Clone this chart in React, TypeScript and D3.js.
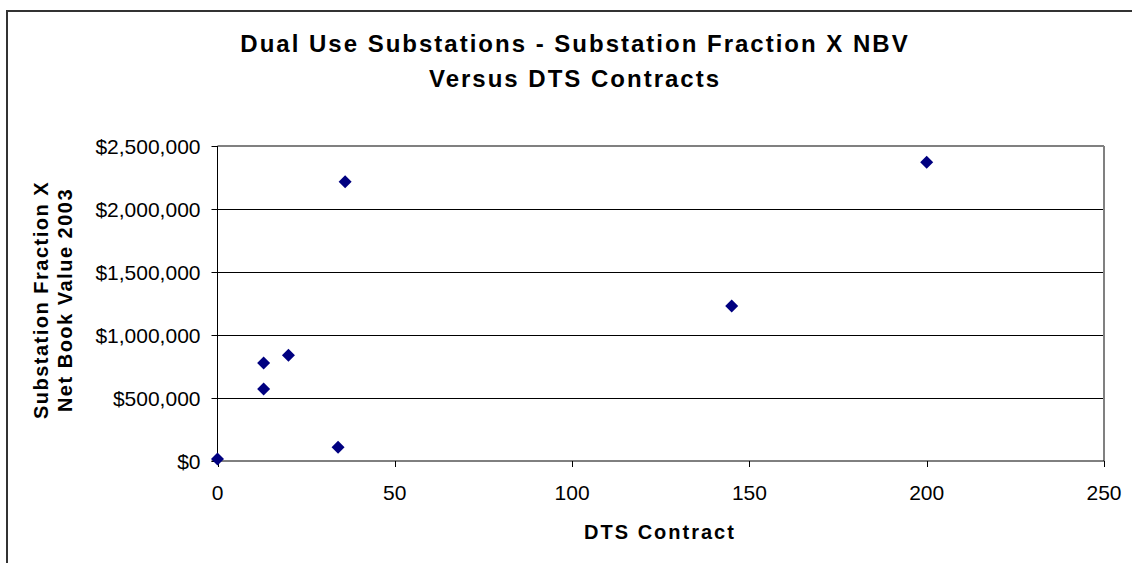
import React from 'react';
import * as d3 from 'd3';

// DTS contracts vs substation fraction x NBV
const dtsContracts = [0, 36, 13, 20, 13, 34, 200, 145];
const nbvValues = [15000, 2217000, 778000, 839000, 571000, 109000, 2371000, 1230000];
const xTicks = [0, 50, 100, 150, 200, 250];
const yTicks = [0, 500000, 1000000, 1500000, 2000000, 2500000];
const titleLines = ['Dual Use Substations - Substation Fraction X NBV', 'Versus DTS Contracts'];
const yTitleLines = ['Substation Fraction X', 'Net Book Value 2003'];
const xTitle = 'DTS Contract';

const width = 1132;
const height = 563;
const plot = { left: 217.5, right: 1104, top: 146, bottom: 461 };
const font = 'Arial, "Liberation Sans", sans-serif';

const App = () => {
  const x = d3.scaleLinear().domain([0, 250]).range([plot.left, plot.right]);
  const y = d3.scaleLinear().domain([0, 2500000]).range([plot.bottom, plot.top]);
  const fmt = (v: number) => '$' + d3.format(',')(v);
  const diamond = 'M0,-6.5L6.5,0L0,6.5L-6.5,0Z';

  return (
    <svg width={width} height={height} style={{ position: 'absolute', left: 0, top: 0, background: '#fff' }}>
      {/* outer chart frame, cut off on right and bottom */}
      <rect x={7} y={11} width={1140} height={570} fill="#fff" stroke="#333" strokeWidth={2} />

      {/* title */}
      {titleLines.map((t, i) => (
        <text key={t} x={575} y={52 + i * 35} textAnchor="middle" fontFamily={font}
          fontWeight="bold" fontSize={24} letterSpacing={2} fill="#000">{t}</text>
      ))}

      {/* grid lines */}
      {yTicks.slice(1, -1).map(t => (
        <line key={t} x1={plot.left} x2={plot.right} y1={Math.round(y(t)) + 0.5} y2={Math.round(y(t)) + 0.5}
          stroke="#000" strokeWidth={1} />
      ))}
      {/* plot border: gray top/right */}
      <line x1={plot.left} x2={plot.right} y1={plot.top} y2={plot.top} stroke="#808080" strokeWidth={2} />
      <line x1={plot.right} x2={plot.right} y1={plot.top} y2={plot.bottom} stroke="#808080" strokeWidth={2} />

      {/* axes */}
      <line x1={plot.left} x2={plot.left} y1={plot.top} y2={plot.bottom} stroke="#000" strokeWidth={1} />
      <line x1={plot.left - 6} x2={plot.right} y1={plot.bottom} y2={plot.bottom} stroke="#000" strokeWidth={1} />
      {yTicks.map(t => (
        <g key={t}>
          <line x1={plot.left - 6} x2={plot.left} y1={Math.round(y(t)) + 0.5} y2={Math.round(y(t)) + 0.5} stroke="#000" />
          <text x={plot.left - 17} y={y(t) + 7.5} textAnchor="end" fontFamily={font} fontSize={21} fill="#000">{fmt(t)}</text>
        </g>
      ))}
      {xTicks.map(t => (
        <g key={t}>
          <line x1={Math.round(x(t)) + 0.5} x2={Math.round(x(t)) + 0.5} y1={plot.bottom} y2={plot.bottom + 6} stroke="#000" />
          <text x={x(t)} y={500} textAnchor="middle" fontFamily={font} fontSize={21} fill="#000">{t}</text>
        </g>
      ))}

      {/* axis titles */}
      <text x={660} y={539} textAnchor="middle" fontFamily={font} fontWeight="bold" fontSize={20}
        letterSpacing={2} fill="#000">{xTitle}</text>
      {yTitleLines.map((t, i) => (
        <text key={t} transform={`translate(${48 + i * 24},300) rotate(-90)`} textAnchor="middle"
          fontFamily={font} fontWeight="bold" fontSize={20} letterSpacing={1.5} fill="#000">{t}</text>
      ))}

      {/* points */}
      {dtsContracts.map((d, i) => (
        <path key={i} d={diamond} transform={`translate(${x(d)},${y(nbvValues[i])})`} fill="#000080" />
      ))}
    </svg>
  );
};

export default App;
